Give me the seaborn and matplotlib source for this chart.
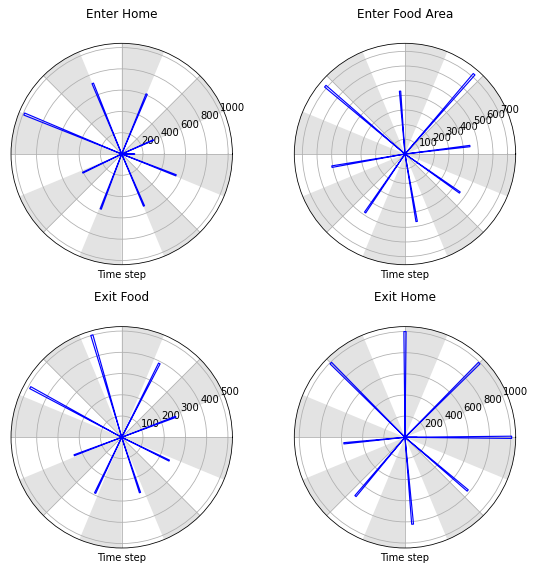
import numpy as np
import pandas as pd
import matplotlib
matplotlib.use("Agg")
import matplotlib.pyplot as plt
import seaborn as sns

titles = ["Enter Home", "Enter Food Area", "Exit Food", "Exit Home"]

# spoke directions (degrees) and lengths
enter_home_deg = [67.4, 112.3, 157.7, 23.8, 0.0, -21.4, -66.8, -110.9, -154.4]
enter_home_len = [610, 717, 990, 325, 122, 548, 531, 553, 406]

enter_food_deg = [49.1, 139.6, 94.5, 7.0, -35.1, -80.2, -124.3, -170.2]
enter_food_len = [720, 714, 430, 446, 457, 467, 483, 506]

exit_food_deg = [106.3, 151.5, 63.0, 20.8, -26.1, -71.7, -115.5, -159.3]
exit_food_len = [501, 490, 390, 272, 249, 274, 291, 239]

exit_home_deg = [90.0, 45.0, 135.0, 0.0, 0.0, -40.3, -85.0, -130.1, -174.4]
exit_home_len = [1000, 993, 993, 1009, 115, 778, 825, 727, 581]

panels = [
    (enter_home_deg, enter_home_len),
    (enter_food_deg, enter_food_len),
    (exit_food_deg, exit_food_len),
    (exit_home_deg, exit_home_len),
]
r_max = [1040, 755, 521, 1047]

# grey wedges every other 22.5 degrees
shade_centers = np.arange(33.75, 360, 45)
spread = 0.6  # half angle (deg) between out and back strokes of a spoke

fig = plt.figure(figsize=(535 / 72, 570 / 72), dpi=72)
positions = [
    [0.0206, 0.5356, 0.4138, 0.3884],
    [0.5501, 0.5356, 0.4138, 0.3884],
    [0.0206, 0.0386, 0.4138, 0.3884],
    [0.5501, 0.0386, 0.4138, 0.3884],
]

for pos, title, (degs, lens), rm in zip(positions, titles, panels, r_max):
    ax = fig.add_axes(pos, projection="polar")
    ax.bar(np.deg2rad(shade_centers), rm, width=np.deg2rad(22.5),
           color="#e3e3e3", linewidth=0, zorder=0)

    rows = []
    for i, (d, L) in enumerate(zip(degs, lens)):
        for a, r in [(d - spread, 0), (d - spread, L), (d + spread, L), (d + spread, 0)]:
            rows.append({"spoke": i, "theta": np.deg2rad(a), "r": r})
    df = pd.DataFrame(rows)
    sns.lineplot(data=df, x="theta", y="r", units="spoke", estimator=None,
                 sort=False, color="blue", linewidth=1.15, ax=ax)

    ax.set_ylim(0, rm)
    ax.set_xticks(np.deg2rad(np.arange(0, 360, 45)))
    ax.set_xticklabels([])
    ax.set_ylabel("")
    ax.set_xlabel("Time step", labelpad=-9)
    ax.set_title(title, y=1.087, fontsize=12)
    ax.tick_params(labelsize=10)

fig.savefig("out.png", dpi=72)
